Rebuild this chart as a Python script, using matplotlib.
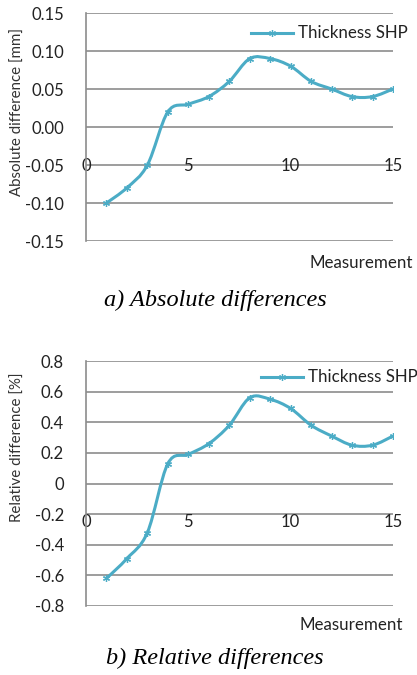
import numpy as np
import matplotlib.pyplot as plt
from matplotlib.path import Path
from matplotlib.patches import PathPatch
from matplotlib.lines import Line2D

# measurements 1..15, thickness differences (SHP)
measurements = list(range(1, 16))
abs_diff = [-0.10, -0.08, -0.05, 0.02, 0.03, 0.04, 0.06, 0.09, 0.09, 0.08, 0.06, 0.05, 0.04, 0.04, 0.05]
rel_diff = [-0.62, -0.49, -0.32, 0.13, 0.19, 0.26, 0.38, 0.56, 0.55, 0.49, 0.38, 0.31, 0.25, 0.25, 0.31]

abs_ticks = [-0.15, -0.10, -0.05, 0.00, 0.05, 0.10, 0.15]
abs_ticklabels = ['-0.15', '-0.10', '-0.05', '0.00', '0.05', '0.10', '0.15']
rel_ticks = [-0.8, -0.6, -0.4, -0.2, 0, 0.2, 0.4, 0.6, 0.8]
rel_ticklabels = ['-0.8', '-0.6', '-0.4', '-0.2', '0', '0.2', '0.4', '0.6', '0.8']
x_ticks = [0, 5, 10, 15]

LINE_C = '#4bacc6'
GRID_C = '#8c8c8c'
FONT = 'Lato'

W, H = 417, 675
fig = plt.figure(figsize=(W / 100, H / 100), dpi=100)


def px_axes(left, top, right, bottom):
    return fig.add_axes([left / W, 1 - bottom / H, (right - left) / W, (bottom - top) / H])


def smooth_path(x, y):
    # excel-style smoothed line: bezier segments with catmull-rom handles
    x = np.asarray(x, float)
    y = np.asarray(y, float)
    verts = [(x[0], y[0])]
    codes = [Path.MOVETO]
    n = len(x)
    for i in range(n - 1):
        p0 = (x[max(i - 1, 0)], y[max(i - 1, 0)])
        p1 = (x[i], y[i])
        p2 = (x[i + 1], y[i + 1])
        p3 = (x[min(i + 2, n - 1)], y[min(i + 2, n - 1)])
        c1 = (p1[0] + (p2[0] - p0[0]) / 6, p1[1] + (p2[1] - p0[1]) / 6)
        c2 = (p2[0] - (p3[0] - p1[0]) / 6, p2[1] - (p3[1] - p1[1]) / 6)
        verts += [c1, c2, p2]
        codes += [Path.CURVE4] * 3
    return Path(verts, codes)


def draw_panel(ax, y, ticks, ticklabels, ylabel, ylabel_y, legend_xy):
    ax.set_xlim(0, 15)
    ax.set_ylim(ticks[0], ticks[-1])
    for t in ticks:
        ax.axhline(t, color=GRID_C, lw=1.2, zorder=1)
    for s in ['top', 'right', 'bottom']:
        ax.spines[s].set_visible(False)
    ax.spines['left'].set_color(GRID_C)
    ax.spines['left'].set_linewidth(1.2)
    ax.spines['bottom'].set_position(('data', 0))

    ax.add_patch(PathPatch(smooth_path(measurements, y), fill=False,
                           edgecolor=LINE_C, lw=2.2, zorder=3))
    ax.plot(measurements, y, ls='none', marker=(6, 2, 0), ms=5,
            mec=LINE_C, mew=0.9, zorder=4)

    ax.set_yticks(ticks)
    ax.set_yticklabels(ticklabels, fontsize=12, family=FONT, color='#222222')
    ax.tick_params(axis='y', length=0, pad=16)
    ax.set_xticks(x_ticks)
    ax.set_xticklabels([str(t) for t in x_ticks], fontsize=12, family=FONT, color='#222222')
    ax.tick_params(axis='x', length=0, pad=22)
    ax.set_ylabel(ylabel, fontsize=10.8, family=FONT, color='#333333', va='center')
    ax.yaxis.set_label_coords(-68 / 307, ylabel_y)

    # legend: short line with marker and label at top right
    lx, ly = legend_xy
    fig.add_artist(Line2D([lx / W, (lx + 42) / W], [1 - ly / H, 1 - ly / H],
                          color=LINE_C, lw=2.2, transform=fig.transFigure))
    fig.add_artist(Line2D([(lx + 21) / W], [1 - ly / H], ls='none', marker=(6, 2, 0),
                          ms=5, mec=LINE_C, mew=0.9, transform=fig.transFigure))
    fig.text((lx + 47) / W, 1 - ly / H, 'Thickness SHP', fontsize=12.2, family=FONT,
             color='#222222', va='center', ha='left')


ax1 = px_axes(86, 13, 393, 241)
draw_panel(ax1, abs_diff, abs_ticks, abs_ticklabels, 'Absolute difference [mm]',
           (241 - 112) / 228, (251, 33))
fig.text(413 / W, 1 - 263 / H, 'Measurement', fontsize=12.2, family=FONT, color='#222222',
         ha='right', va='center')
fig.text(215 / W, 1 - 300 / H, 'a) Absolute differences', fontsize=17.5,
         family='Liberation Serif', style='italic', ha='center', va='center')

ax2 = px_axes(86, 361, 393, 606)
draw_panel(ax2, rel_diff, rel_ticks, rel_ticklabels, 'Relative difference [%]',
           (606 - 447) / 245, (261, 377))
fig.text(403 / W, 1 - 625 / H, 'Measurement', fontsize=12.2, family=FONT, color='#222222',
         ha='right', va='center')
fig.text(215 / W, 1 - 658 / H, 'b) Relative differences', fontsize=17.5,
         family='Liberation Serif', style='italic', ha='center', va='center')

fig.savefig('out.png', dpi=100)
